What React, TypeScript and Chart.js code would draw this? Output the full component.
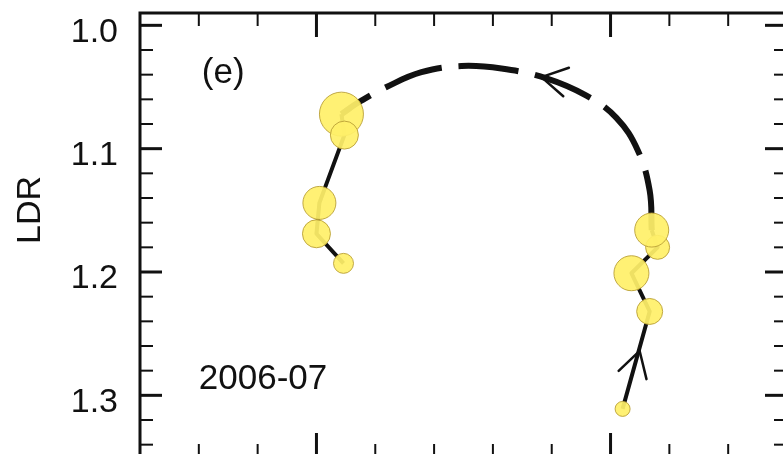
import React, { useEffect, useRef } from 'react';
import { Chart, registerables } from 'chart.js';

Chart.register(...registerables);

// ---- data ----
// right-hand cluster, in path order (start of trajectory)
const rightX = [1.041, 1.133, 1.071, 1.160, 1.140];
const rightY = [1.311, 1.232, 1.201, 1.180, 1.166];
const rightSize = [7.5, 13, 17.5, 12, 17];

// left-hand cluster, in path order (end of trajectory)
const leftX = [0.085, 0.095, 0.010, 0.000, 0.092];
const leftY = [1.072, 1.089, 1.144, 1.169, 1.193];
const leftSize = [22, 14, 16.5, 14, 10];

// dashed transition arc (right cluster -> left cluster)
const arcX = [1.140, 1.133, 1.092, 1.020, 0.918, 0.782, 0.629, 0.493, 0.357, 0.238, 0.146, 0.085];
const arcY = [1.166, 1.134, 1.101, 1.075, 1.057, 1.043, 1.035, 1.033, 1.038, 1.050, 1.062, 1.072];

// arrow heads (tip and a point behind it along the path)
const arrowTipX = [1.099, 0.765];
const arrowTipY = [1.264, 1.042];
const arrowTailX = [1.041, 0.850];
const arrowTailY = [1.311, 1.046];

// axes
const yTickValues = [1.0, 1.1, 1.2, 1.3];
const yTickLabels = ['1.0', '1.1', '1.2', '1.3'];
const yMinorTicks = [1.02, 1.04, 1.06, 1.08, 1.12, 1.14, 1.16, 1.18, 1.22, 1.24, 1.26, 1.28, 1.32, 1.34];
const xMajorTicks = [0, 1];
const xMinorTicks = [-0.4, -0.2, 0.2, 0.4, 0.6, 0.8, 1.2, 1.4];
const yTitle = 'LDR';

// in-panel notes
const noteTexts = ['(e)', '2006-07'];
const noteX = [-0.39, -0.40];
const noteY = [1.047, 1.295];

const FONT = '"Liberation Sans", Arial, Helvetica, sans-serif';
const INK = '#111';

const decor = {
  id: 'decor',
  afterDatasetsDraw(chart: any) {
    const { ctx, chartArea: a, scales } = chart;
    const x = scales.x;
    const y = scales.y;
    ctx.save();

    // arrow heads
    ctx.strokeStyle = INK;
    ctx.lineWidth = 2.5;
    ctx.lineCap = 'round';
    arrowTipX.forEach((tx, i) => {
      const px = x.getPixelForValue(tx);
      const py = y.getPixelForValue(arrowTipY[i]);
      const qx = x.getPixelForValue(arrowTailX[i]);
      const qy = y.getPixelForValue(arrowTailY[i]);
      const ang = Math.atan2(qy - py, qx - px);
      [-1, 1].forEach((s) => {
        const b = ang + (s * Math.PI) / 6;
        ctx.beginPath();
        ctx.moveTo(px, py);
        ctx.lineTo(px + 29 * Math.cos(b), py + 29 * Math.sin(b));
        ctx.stroke();
      });
    });

    // notes
    ctx.fillStyle = INK;
    ctx.font = `35px ${FONT}`;
    ctx.textAlign = 'left';
    ctx.textBaseline = 'alphabetic';
    noteTexts.forEach((t, i) => {
      ctx.fillText(t, x.getPixelForValue(noteX[i]), y.getPixelForValue(noteY[i]));
    });

    // frame
    ctx.lineCap = 'butt';
    ctx.lineWidth = 3;
    ctx.strokeRect(a.left, a.top, a.right - a.left, a.bottom - a.top);

    // inward ticks on all four sides
    const tick = (x1: number, y1: number, x2: number, y2: number, w: number) => {
      ctx.lineWidth = w;
      ctx.beginPath();
      ctx.moveTo(x1, y1);
      ctx.lineTo(x2, y2);
      ctx.stroke();
    };
    const MAJ = 22, MIN = 13;
    yTickValues.forEach((v) => {
      const p = y.getPixelForValue(v);
      tick(a.left, p, a.left + MAJ, p, 3);
      tick(a.right, p, a.right - MAJ, p, 3);
    });
    yMinorTicks.forEach((v) => {
      const p = y.getPixelForValue(v);
      tick(a.left, p, a.left + MIN, p, 2);
      tick(a.right, p, a.right - MIN, p, 2);
    });
    xMajorTicks.forEach((v) => {
      const p = x.getPixelForValue(v);
      tick(p, a.top, p, a.top + MAJ + 2, 3);
      tick(p, a.bottom, p, a.bottom - MAJ - 2, 3);
    });
    xMinorTicks.forEach((v) => {
      const p = x.getPixelForValue(v);
      tick(p, a.top, p, a.top + MIN, 2);
      tick(p, a.bottom, p, a.bottom - MIN, 2);
    });

    // y title
    ctx.font = `34px ${FONT}`;
    ctx.translate(31, 210);
    ctx.rotate(-Math.PI / 2);
    ctx.textAlign = 'center';
    ctx.textBaseline = 'middle';
    ctx.fillText(yTitle, 0, 0);

    ctx.restore();
  },
};

export default function App() {
  const ref = useRef<HTMLCanvasElement>(null);

  useEffect(() => {
    const canvas = ref.current;
    if (!canvas) return;

    const bubbleStyle = {
      backgroundColor: 'rgba(255, 240, 105, 0.93)',
      borderColor: 'rgba(185, 160, 55, 0.9)',
      borderWidth: 1,
      order: 0,
    };
    const lineStyle = {
      borderColor: INK,
      borderWidth: 4,
      pointRadius: 0,
      fill: false,
      tension: 0,
      borderJoinStyle: 'round',
      order: 1,
    };

    const chart = new Chart(canvas, {
      type: 'bubble',
      data: {
        datasets: [
          {
            type: 'bubble',
            data: leftX.map((v, i) => ({ x: v, y: leftY[i], r: leftSize[i] })),
            ...bubbleStyle,
          },
          {
            type: 'bubble',
            data: rightX.map((v, i) => ({ x: v, y: rightY[i], r: rightSize[i] })),
            ...bubbleStyle,
          },
          {
            type: 'line',
            data: leftX.map((v, i) => ({ x: v, y: leftY[i] })),
            ...lineStyle,
          },
          {
            type: 'line',
            data: rightX.map((v, i) => ({ x: v, y: rightY[i] })),
            ...lineStyle,
          },
          {
            type: 'line',
            data: arcX.map((v, i) => ({ x: v, y: arcY[i] })),
            ...lineStyle,
            borderWidth: 6,
            borderDash: [60, 17],
            tension: 0.4,
          },
        ] as any,
      },
      options: {
        responsive: false,
        animation: false,
        devicePixelRatio: 1,
        events: [],
        layout: { padding: { left: 0, top: 13, right: 3, bottom: 13 }, autoPadding: false },
        plugins: { legend: { display: false }, tooltip: { enabled: false } },
        scales: {
          x: { type: 'linear', display: false, min: -0.6, max: 1.6 },
          y: {
            type: 'linear',
            reverse: true,
            min: 0.99,
            max: 1.35,
            grid: { display: false, drawTicks: false },
            border: { display: false },
            ticks: {
              padding: 22,
              labelOffset: 7,
              color: INK,
              font: { family: FONT, size: 34 },
              callback: (_v: any, i: number) => yTickLabels[i],
            },
            afterBuildTicks: (s: any) => {
              s.ticks = yTickValues.map((v) => ({ value: v }));
            },
            afterFit: (s: any) => {
              s.width = 140;
              s.paddingTop = 0;
              s.paddingBottom = 0;
            },
          },
        },
      } as any,
      plugins: [decor],
    });

    return () => chart.destroy();
  }, []);

  return (
    <div
      style={{
        position: 'fixed',
        left: 0,
        top: 0,
        width: 783,
        height: 454,
        overflow: 'hidden',
        background: '#fff',
      }}
    >
      <canvas ref={ref} width={790} height={470} style={{ display: 'block', width: 790, height: 470 }} />
    </div>
  );
}
